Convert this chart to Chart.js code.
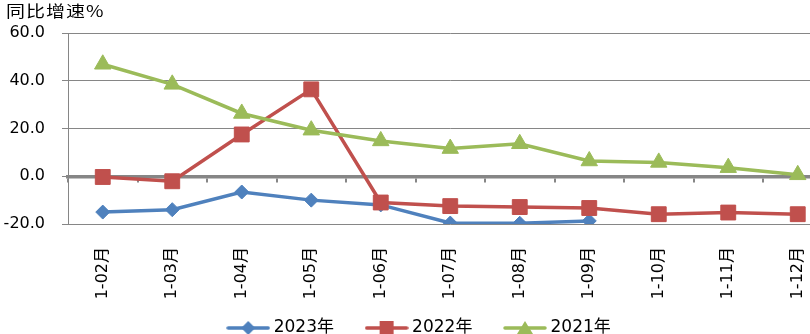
<!DOCTYPE html>
<html>
<head>
<meta charset="utf-8">
<script src="https://cdn.jsdelivr.net/npm/chart.js@4"></script>
<style>
  html, body { margin: 0; padding: 0; background: #fff; overflow: hidden; width: 810px; height: 334px; }
  #wrap { position: absolute; left: 0; top: 0; width: 844px; height: 334px; }
  #title {
    position: absolute; left: 6px; top: -1px;
    font: 19px "Noto Sans CJK SC", sans-serif; letter-spacing: 1px; color: #000;
    transform: scale(1, 0.82); transform-origin: 0 0; white-space: nowrap;
  }
</style>
</head>
<body>
<div id="wrap"><canvas id="lineChart"></canvas></div>
<div id="title">同比增速%</div>
<script>
// categories and series (同比增速 %)
const months = ["1-02月", "1-03月", "1-04月", "1-05月", "1-06月", "1-07月", "1-08月", "1-09月", "1-10月", "1-11月", "1-12月"];
const growth2023 = [-15.0, -14.0, -6.6, -10.0, -12.0, -19.6, -19.7, -18.7, null, null, null];
const growth2022 = [-0.3, -2.1, 17.5, 36.4, -11.0, -12.5, -12.9, -13.3, -15.9, -15.2, -15.9];
const growth2021 = [46.9, 38.5, 26.3, 19.3, 14.8, 11.6, 13.6, 6.4, 5.8, 3.6, 0.6];
const yMin = -20, yMax = 60, yStep = 20;

const BLUE = "#4F81BD", RED = "#C0504D", GREEN = "#9BBB59", GRID = "#868686";
const numFont = "DejaVu Sans, Noto Sans CJK SC, sans-serif";

// legend icon: line with marker in the middle
function legendIcon(color, shape) {
  const c = document.createElement("canvas");
  c.width = 44; c.height = 18;
  const g = c.getContext("2d");
  g.strokeStyle = color; g.fillStyle = color;
  g.lineWidth = 3.5; g.lineCap = "round";
  g.beginPath(); g.moveTo(2, 9); g.lineTo(42, 9); g.stroke();
  const cx = 22, cy = 9;
  g.beginPath();
  if (shape === "diamond") {
    g.moveTo(cx - 7, cy); g.lineTo(cx, cy - 7); g.lineTo(cx + 7, cy); g.lineTo(cx, cy + 7);
  } else if (shape === "square") {
    g.rect(cx - 7, cy - 7, 14, 14);
  } else {
    g.moveTo(cx, cy - 7); g.lineTo(cx + 8, cy + 6); g.lineTo(cx - 8, cy + 6);
  }
  g.closePath(); g.fill();
  return c;
}
const icons = [legendIcon(BLUE, "diamond"), legendIcon(RED, "square"), legendIcon(GREEN, "triangle")];

const ctx = document.getElementById("lineChart");
const chart = new Chart(ctx, {
  type: "line",
  data: {
    labels: months,
    datasets: [
      {
        label: "2023年", data: growth2023, order: 3,
        borderColor: BLUE, backgroundColor: BLUE, borderWidth: 3.5,
        pointStyle: "rectRot", pointRadius: 7, pointBorderWidth: 1,
      },
      {
        label: "2022年", data: growth2022, order: 2,
        borderColor: RED, backgroundColor: RED, borderWidth: 3.5,
        pointStyle: "rect", pointRadius: 10.5, pointBorderWidth: 1,
      },
      {
        label: "2021年", data: growth2021, order: 1,
        borderColor: GREEN, backgroundColor: GREEN, borderWidth: 3.5,
        pointStyle: "triangle", pointRadius: 9.5, pointBorderWidth: 1,
      },
    ],
  },
  options: {
    responsive: true,
    maintainAspectRatio: false,
    animation: false,
    layout: { padding: { top: 33, left: 0, right: 2, bottom: -12.5 } },
    scales: {
      x: {
        type: "category",
        offset: true,
        grid: { display: false },
        border: { display: false },
        ticks: {
          minRotation: 90, maxRotation: 90, autoSkip: false,
          padding: 15, color: "#000",
          font: { family: numFont, size: 16 },
        },
        afterFit(scale) {
          scale.height = 81.5;
          scale.paddingLeft = 0;
          scale.paddingRight = 0;
        },
      },
      x2: {
        type: "category",
        labels: months,
        position: { y: 0 },
        offset: true,
        ticks: { display: false },
        grid: { offset: true, drawOnChartArea: false, drawTicks: true, tickLength: 4, color: GRID, lineWidth: 2 },
        border: { display: true, color: GRID, width: 3.5 },
        afterFit(scale) {
          scale.paddingLeft = 0;
          scale.paddingRight = 0;
        },
      },
      y: {
        min: yMin, max: yMax,
        ticks: {
          stepSize: yStep, padding: 17, color: "#000",
          font: { family: numFont, size: 16 },
          callback: (v) => v.toFixed(1),
        },
        grid: { color: GRID, lineWidth: 1, tickLength: 6 },
        border: { color: GRID, width: 1 },
        afterFit(scale) { scale.width = 68; },
      },
    },
    plugins: {
      legend: {
        position: "bottom",
        labels: {
          usePointStyle: true,
          pointStyleWidth: 34,
          padding: 14,
          color: "#000",
          font: { family: numFont, size: 17 },
          sort: (a, b) => a.datasetIndex - b.datasetIndex,
          generateLabels(chart) {
            const items = Chart.defaults.plugins.legend.labels.generateLabels(chart);
            items.forEach((it) => {
              it.pointStyle = icons[it.datasetIndex];
              // extra gap after the first two entries
              if (it.datasetIndex < 2) it.text += "    ";
            });
            return items;
          },
        },
      },
      tooltip: { enabled: false },
    },
  },
});
</script>
</body>
</html>
